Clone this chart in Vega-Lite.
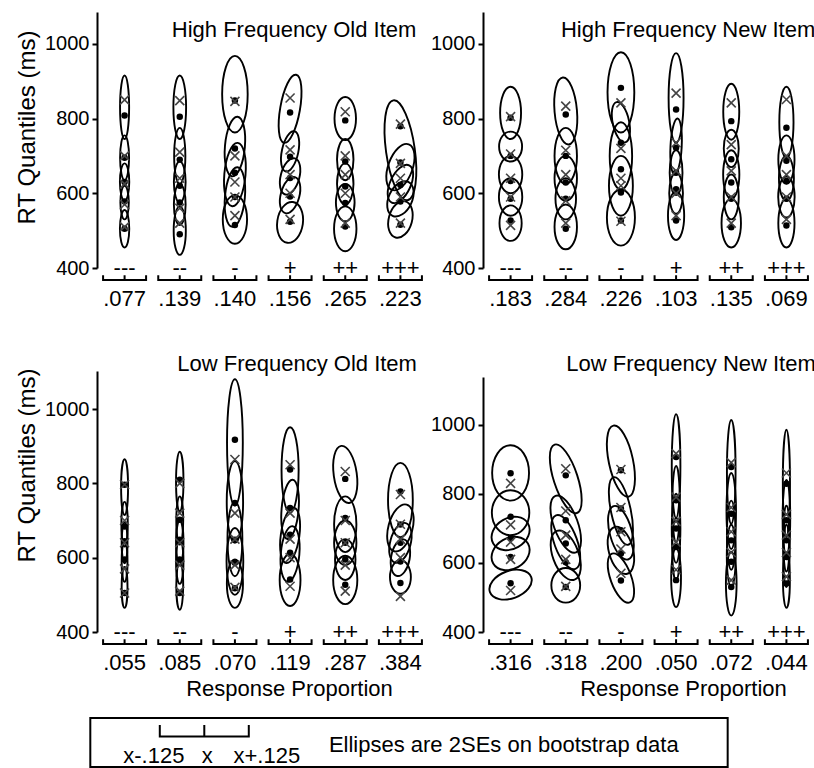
{
"$schema": "https://vega.github.io/schema/vega-lite/v6.json",
"padding": {"left": 14, "top": 12, "right": 0, "bottom": 0},
"background": "white",
"config": {
 "font": "Liberation Sans",
 "view": {"stroke": null},
 "range": {"symbol": [
  "M0,-1C0.4603,-1,0.8333,-0.5523,0.8333,0C0.8333,0.5523,0.4603,1,0,1C-0.4603,1,-0.8333,0.5523,-0.8333,0C-0.8333,-0.5523,-0.4603,-1,0,-1Z",
  "M0,-1C0.4248,-1,0.7692,-0.5523,0.7692,0C0.7692,0.5523,0.4248,1,0,1C-0.4248,1,-0.7692,0.5523,-0.7692,0C-0.7692,-0.5523,-0.4248,-1,0,-1Z",
  "M0,-1C0.3682,-1,0.6667,-0.5523,0.6667,0C0.6667,0.5523,0.3682,1,0,1C-0.3682,1,-0.6667,0.5523,-0.6667,0C-0.6667,-0.5523,-0.3682,-1,0,-1Z",
  "M0,-1C0.3452,-1,0.625,-0.5523,0.625,0C0.625,0.5523,0.3452,1,0,1C-0.3452,1,-0.625,0.5523,-0.625,0C-0.625,-0.5523,-0.3452,-1,0,-1Z",
  "M0,-1C0.2762,-1,0.5,-0.5523,0.5,0C0.5,0.5523,0.2762,1,0,1C-0.2762,1,-0.5,0.5523,-0.5,0C-0.5,-0.5523,-0.2762,-1,0,-1Z",
  "M0,-1C0.2209,-1,0.4,-0.5523,0.4,0C0.4,0.5523,0.2209,1,0,1C-0.2209,1,-0.4,0.5523,-0.4,0C-0.4,-0.5523,-0.2209,-1,0,-1Z",
  "M0,-1C0.1841,-1,0.3333,-0.5523,0.3333,0C0.3333,0.5523,0.1841,1,0,1C-0.1841,1,-0.3333,0.5523,-0.3333,0C-0.3333,-0.5523,-0.1841,-1,0,-1Z",
  "M0,-1C0.1578,-1,0.2857,-0.5523,0.2857,0C0.2857,0.5523,0.1578,1,0,1C-0.1578,1,-0.2857,0.5523,-0.2857,0C-0.2857,-0.5523,-0.1578,-1,0,-1Z",
  "M0,-1C0.1381,-1,0.25,-0.5523,0.25,0C0.25,0.5523,0.1381,1,0,1C-0.1381,1,-0.25,0.5523,-0.25,0C-0.25,-0.5523,-0.1381,-1,0,-1Z",
  "M0,-1C0.1105,-1,0.2,-0.5523,0.2,0C0.2,0.5523,0.1105,1,0,1C-0.1105,1,-0.2,0.5523,-0.2,0C-0.2,-0.5523,-0.1105,-1,0,-1Z",
  "M0,-1C0.0921,-1,0.1667,-0.5523,0.1667,0C0.1667,0.5523,0.0921,1,0,1C-0.0921,1,-0.1667,0.5523,-0.1667,0C-0.1667,-0.5523,-0.0921,-1,0,-1Z",
  "M0,-1C0.0789,-1,0.1429,-0.5523,0.1429,0C0.1429,0.5523,0.0789,1,0,1C-0.0789,1,-0.1429,0.5523,-0.1429,0C-0.1429,-0.5523,-0.0789,-1,0,-1Z",
  "M0,-1C0.069,-1,0.125,-0.5523,0.125,0C0.125,0.5523,0.069,1,0,1C-0.069,1,-0.125,0.5523,-0.125,0C-0.125,-0.5523,-0.069,-1,0,-1Z",
  "M0,-1C0.0552,-1,0.1,-0.5523,0.1,0C0.1,0.5523,0.0552,1,0,1C-0.0552,1,-0.1,0.5523,-0.1,0C-0.1,-0.5523,-0.0552,-1,0,-1Z",
  "M0,-1C0.046,-1,0.0833,-0.5523,0.0833,0C0.0833,0.5523,0.046,1,0,1C-0.046,1,-0.0833,0.5523,-0.0833,0C-0.0833,-0.5523,-0.046,-1,0,-1Z",
  "M0,-1C0.0368,-1,0.0667,-0.5523,0.0667,0C0.0667,0.5523,0.0368,1,0,1C-0.0368,1,-0.0667,0.5523,-0.0667,0C-0.0667,-0.5523,-0.0368,-1,0,-1Z"
 ]},
 "axis": {"labelFont": "Liberation Sans", "labelFontSize": 20, "labelColor": "black", "titleFont": "Liberation Sans", "titleFontSize": 24, "titleFontWeight": "normal", "titleColor": "black", "domainColor": "black", "domainWidth": 2, "tickColor": "black", "tickWidth": 2, "tickSize": 5, "labelPadding": 3, "grid": false, "format": "d"},
 "text": {"font": "Liberation Sans", "fontSize": 22, "color": "black"}
},
"datasets": {
 "q": [
  {"p":"TL","c":"---","o":505,"m":510,"cy":505,"h":100,"a":4,"t":0},
  {"p":"TL","c":"---","o":578,"m":570,"cy":575,"h":90,"a":4,"t":0},
  {"p":"TL","c":"---","o":630,"m":625,"cy":630,"h":100,"a":4,"t":0},
  {"p":"TL","c":"---","o":695,"m":700,"cy":695,"h":120,"a":5,"t":0},
  {"p":"TL","c":"---","o":808,"m":850,"cy":830,"h":170,"a":7,"t":0},
  {"p":"TL","c":"--","o":490,"m":520,"cy":500,"h":130,"a":4,"t":0},
  {"p":"TL","c":"--","o":575,"m":560,"cy":570,"h":110,"a":3.5,"t":0},
  {"p":"TL","c":"--","o":620,"m":640,"cy":630,"h":110,"a":3.5,"t":0},
  {"p":"TL","c":"--","o":690,"m":710,"cy":700,"h":150,"a":5,"t":0},
  {"p":"TL","c":"--","o":805,"m":848,"cy":830,"h":170,"a":5,"t":0},
  {"p":"TL","c":"-","o":515,"m":540,"cy":530,"h":130,"a":2,"t":0},
  {"p":"TL","c":"-","o":590,"m":590,"cy":590,"h":160,"a":3,"t":5},
  {"p":"TL","c":"-","o":655,"m":630,"cy":650,"h":170,"a":3,"t":5},
  {"p":"TL","c":"-","o":720,"m":700,"cy":725,"h":160,"a":3,"t":5},
  {"p":"TL","c":"-","o":848,"m":846,"cy":865,"h":205,"a":3,"t":0},
  {"p":"TL","c":"+","o":524,"m":530,"cy":522,"h":110,"a":1.6,"t":8},
  {"p":"TL","c":"+","o":591,"m":600,"cy":595,"h":100,"a":2,"t":15},
  {"p":"TL","c":"+","o":641,"m":650,"cy":645,"h":100,"a":2,"t":15},
  {"p":"TL","c":"+","o":698,"m":716,"cy":712,"h":110,"a":2.5,"t":12},
  {"p":"TL","c":"+","o":816,"m":855,"cy":826,"h":185,"a":3.5,"t":10},
  {"p":"TL","c":"++","o":511,"m":520,"cy":505,"h":120,"a":2,"t":0},
  {"p":"TL","c":"++","o":574,"m":600,"cy":575,"h":100,"a":2,"t":0},
  {"p":"TL","c":"++","o":618,"m":650,"cy":625,"h":110,"a":2.5,"t":0},
  {"p":"TL","c":"++","o":685,"m":700,"cy":690,"h":110,"a":2.5,"t":0},
  {"p":"TL","c":"++","o":795,"m":818,"cy":800,"h":115,"a":2,"t":0},
  {"p":"TL","c":"+++","o":516,"m":520,"cy":530,"h":100,"a":1.6,"t":15},
  {"p":"TL","c":"+++","o":578,"m":590,"cy":585,"h":100,"a":1.6,"t":25},
  {"p":"TL","c":"+++","o":622,"m":640,"cy":625,"h":110,"a":2,"t":25},
  {"p":"TL","c":"+++","o":682,"m":680,"cy":670,"h":130,"a":2,"t":20},
  {"p":"TL","c":"+++","o":779,"m":785,"cy":715,"h":270,"a":3.5,"t":-8},

  {"p":"TR","c":"---","o":527,"m":514,"cy":520,"h":95,"a":1.6,"t":0},
  {"p":"TR","c":"---","o":585,"m":590,"cy":590,"h":100,"a":1.6,"t":0},
  {"p":"TR","c":"---","o":633,"m":640,"cy":650,"h":100,"a":1.6,"t":0},
  {"p":"TR","c":"---","o":700,"m":705,"cy":725,"h":80,"a":1.3,"t":0},
  {"p":"TR","c":"---","o":802,"m":805,"cy":815,"h":140,"a":2.5,"t":0},
  {"p":"TR","c":"--","o":505,"m":520,"cy":510,"h":120,"a":2,"t":0},
  {"p":"TR","c":"--","o":585,"m":580,"cy":585,"h":110,"a":2,"t":0},
  {"p":"TR","c":"--","o":629,"m":650,"cy":640,"h":120,"a":2,"t":0},
  {"p":"TR","c":"--","o":700,"m":715,"cy":700,"h":150,"a":2.5,"t":0},
  {"p":"TR","c":"--","o":811,"m":833,"cy":820,"h":180,"a":3,"t":-5},
  {"p":"TR","c":"-","o":527,"m":525,"cy":535,"h":150,"a":2,"t":0},
  {"p":"TR","c":"-","o":602,"m":620,"cy":620,"h":160,"a":2.5,"t":0},
  {"p":"TR","c":"-","o":664,"m":640,"cy":700,"h":180,"a":3,"t":0},
  {"p":"TR","c":"-","o":735,"m":720,"cy":790,"h":110,"a":2.5,"t":-12},
  {"p":"TR","c":"-","o":882,"m":842,"cy":870,"h":215,"a":3,"t":0},
  {"p":"TR","c":"+","o":527,"m":540,"cy":540,"h":130,"a":3,"t":0},
  {"p":"TR","c":"+","o":611,"m":600,"cy":600,"h":110,"a":3,"t":0},
  {"p":"TR","c":"+","o":655,"m":660,"cy":655,"h":120,"a":3.5,"t":0},
  {"p":"TR","c":"+","o":722,"m":735,"cy":725,"h":150,"a":5,"t":3},
  {"p":"TR","c":"+","o":824,"m":868,"cy":855,"h":240,"a":6,"t":0},
  {"p":"TR","c":"++","o":509,"m":520,"cy":520,"h":130,"a":2.5,"t":0},
  {"p":"TR","c":"++","o":585,"m":590,"cy":590,"h":120,"a":3,"t":0},
  {"p":"TR","c":"++","o":629,"m":660,"cy":650,"h":130,"a":3,"t":0},
  {"p":"TR","c":"++","o":691,"m":730,"cy":720,"h":100,"a":2.5,"t":0},
  {"p":"TR","c":"++","o":793,"m":842,"cy":818,"h":150,"a":3.5,"t":0},
  {"p":"TR","c":"+++","o":514,"m":530,"cy":520,"h":130,"a":3,"t":0},
  {"p":"TR","c":"+++","o":585,"m":590,"cy":590,"h":110,"a":2.5,"t":0},
  {"p":"TR","c":"+++","o":633,"m":650,"cy":640,"h":120,"a":3,"t":0},
  {"p":"TR","c":"+++","o":687,"m":700,"cy":690,"h":130,"a":3,"t":0},
  {"p":"TR","c":"+++","o":775,"m":851,"cy":790,"h":190,"a":5,"t":0},

  {"p":"BL","c":"---","o":505,"m":505,"cy":520,"h":110,"a":7,"t":0},
  {"p":"BL","c":"---","o":595,"m":570,"cy":590,"h":110,"a":7,"t":0},
  {"p":"BL","c":"---","o":644,"m":640,"cy":640,"h":110,"a":7,"t":0},
  {"p":"BL","c":"---","o":684,"m":700,"cy":690,"h":120,"a":7,"t":0},
  {"p":"BL","c":"---","o":796,"m":797,"cy":790,"h":150,"a":8,"t":0},
  {"p":"BL","c":"--","o":505,"m":510,"cy":525,"h":130,"a":7,"t":0},
  {"p":"BL","c":"--","o":595,"m":580,"cy":590,"h":120,"a":6,"t":0},
  {"p":"BL","c":"--","o":648,"m":640,"cy":640,"h":120,"a":6,"t":0},
  {"p":"BL","c":"--","o":702,"m":720,"cy":700,"h":130,"a":7,"t":0},
  {"p":"BL","c":"--","o":810,"m":800,"cy":805,"h":160,"a":8,"t":0},
  {"p":"BL","c":"-","o":518,"m":520,"cy":530,"h":130,"a":3,"t":0},
  {"p":"BL","c":"-","o":586,"m":580,"cy":590,"h":180,"a":4,"t":0},
  {"p":"BL","c":"-","o":648,"m":650,"cy":650,"h":200,"a":5,"t":0},
  {"p":"BL","c":"-","o":747,"m":720,"cy":750,"h":220,"a":5,"t":0},
  {"p":"BL","c":"-","o":917,"m":864,"cy":910,"h":340,"a":8,"t":0},
  {"p":"BL","c":"+","o":541,"m":523,"cy":540,"h":140,"a":2.5,"t":0},
  {"p":"BL","c":"+","o":613,"m":600,"cy":610,"h":150,"a":3,"t":5},
  {"p":"BL","c":"+","o":662,"m":650,"cy":660,"h":150,"a":3,"t":8},
  {"p":"BL","c":"+","o":734,"m":720,"cy":730,"h":160,"a":3.5,"t":5},
  {"p":"BL","c":"+","o":837,"m":850,"cy":836,"h":230,"a":5,"t":0},
  {"p":"BL","c":"++","o":527,"m":510,"cy":540,"h":130,"a":2,"t":0},
  {"p":"BL","c":"++","o":595,"m":580,"cy":595,"h":110,"a":2,"t":0},
  {"p":"BL","c":"++","o":640,"m":640,"cy":640,"h":120,"a":2,"t":0},
  {"p":"BL","c":"++","o":707,"m":700,"cy":690,"h":150,"a":2.5,"t":0},
  {"p":"BL","c":"++","o":812,"m":832,"cy":824,"h":155,"a":2.5,"t":-8},
  {"p":"BL","c":"+++","o":532,"m":496,"cy":548,"h":90,"a":1.6,"t":0},
  {"p":"BL","c":"+++","o":590,"m":600,"cy":600,"h":100,"a":2,"t":10},
  {"p":"BL","c":"+++","o":640,"m":650,"cy":640,"h":110,"a":2,"t":15},
  {"p":"BL","c":"+++","o":689,"m":690,"cy":680,"h":130,"a":2,"t":15},
  {"p":"BL","c":"+++","o":778,"m":770,"cy":755,"h":200,"a":3,"t":0},

  {"p":"BR","c":"---","o":541,"m":520,"cy":537,"h":127,"a":1.6,"t":70},
  {"p":"BR","c":"---","o":617,"m":610,"cy":627,"h":116,"a":1.3,"t":60},
  {"p":"BR","c":"---","o":671,"m":660,"cy":685,"h":116,"a":1.3,"t":60},
  {"p":"BR","c":"---","o":733,"m":710,"cy":745,"h":130,"a":1.2,"t":0},
  {"p":"BR","c":"---","o":859,"m":830,"cy":860,"h":160,"a":1.5,"t":0},
  {"p":"BR","c":"--","o":530,"m":532,"cy":535,"h":100,"a":1.2,"t":0},
  {"p":"BR","c":"--","o":602,"m":610,"cy":622,"h":150,"a":2,"t":-20},
  {"p":"BR","c":"--","o":656,"m":680,"cy":660,"h":165,"a":2.5,"t":-20},
  {"p":"BR","c":"--","o":723,"m":750,"cy":712,"h":174,"a":2.5,"t":-20},
  {"p":"BR","c":"--","o":853,"m":872,"cy":843,"h":208,"a":3,"t":-18},
  {"p":"BR","c":"-","o":549,"m":570,"cy":556,"h":150,"a":2.5,"t":-20},
  {"p":"BR","c":"-","o":627,"m":640,"cy":636,"h":140,"a":2,"t":-15},
  {"p":"BR","c":"-","o":694,"m":690,"cy":687,"h":160,"a":2.5,"t":-15},
  {"p":"BR","c":"-","o":757,"m":760,"cy":750,"h":200,"a":3.5,"t":-12},
  {"p":"BR","c":"-","o":868,"m":870,"cy":894,"h":210,"a":3,"t":-12},
  {"p":"BR","c":"+","o":550,"m":580,"cy":557,"h":170,"a":6,"t":0},
  {"p":"BR","c":"+","o":646,"m":660,"cy":640,"h":180,"a":8,"t":0},
  {"p":"BR","c":"+","o":699,"m":720,"cy":700,"h":200,"a":8,"t":0},
  {"p":"BR","c":"+","o":781,"m":790,"cy":770,"h":220,"a":10,"t":0},
  {"p":"BR","c":"+","o":906,"m":916,"cy":880,"h":300,"a":12,"t":0},
  {"p":"BR","c":"++","o":530,"m":550,"cy":540,"h":185,"a":6,"t":0},
  {"p":"BR","c":"++","o":603,"m":630,"cy":620,"h":180,"a":7,"t":0},
  {"p":"BR","c":"++","o":665,"m":690,"cy":680,"h":200,"a":8,"t":0},
  {"p":"BR","c":"++","o":742,"m":760,"cy":750,"h":220,"a":8,"t":0},
  {"p":"BR","c":"++","o":877,"m":890,"cy":863,"h":300,"a":12,"t":0},
  {"p":"BR","c":"+++","o":540,"m":560,"cy":550,"h":160,"a":8,"t":0},
  {"p":"BR","c":"+++","o":617,"m":630,"cy":620,"h":180,"a":10,"t":0},
  {"p":"BR","c":"+++","o":665,"m":680,"cy":670,"h":190,"a":10,"t":0},
  {"p":"BR","c":"+++","o":723,"m":740,"cy":730,"h":220,"a":10,"t":0},
  {"p":"BR","c":"+++","o":829,"m":860,"cy":830,"h":310,"a":15,"t":0}
 ],
 "lab": [
  {"p":"TL","c":"---","v":".077"},{"p":"TL","c":"--","v":".139"},{"p":"TL","c":"-","v":".140"},{"p":"TL","c":"+","v":".156"},{"p":"TL","c":"++","v":".265"},{"p":"TL","c":"+++","v":".223"},
  {"p":"TR","c":"---","v":".183"},{"p":"TR","c":"--","v":".284"},{"p":"TR","c":"-","v":".226"},{"p":"TR","c":"+","v":".103"},{"p":"TR","c":"++","v":".135"},{"p":"TR","c":"+++","v":".069"},
  {"p":"BL","c":"---","v":".055"},{"p":"BL","c":"--","v":".085"},{"p":"BL","c":"-","v":".070"},{"p":"BL","c":"+","v":".119"},{"p":"BL","c":"++","v":".287"},{"p":"BL","c":"+++","v":".384"},
  {"p":"BR","c":"---","v":".316"},{"p":"BR","c":"--","v":".318"},{"p":"BR","c":"-","v":".200"},{"p":"BR","c":"+","v":".050"},{"p":"BR","c":"++","v":".072"},{"p":"BR","c":"+++","v":".044"}
 ],
 "ttl": [
  {"p":"TL","t":"High Frequency Old Item"},
  {"p":"TR","t":"High Frequency New Item"},
  {"p":"BL","t":"Low Frequency Old Item"},
  {"p":"BR","t":"Low Frequency New Item"}
 ]
},
"columns": 2,
"bounds": "flush",
"spacing": {"row": 86, "column": 55},
"resolve": {"scale": {"size": "independent", "x": "independent", "y": "independent"}},
"concat": [
 {
  "width": 331, "height": 256,
  "data": {"name": "q"},
  "transform": [{"filter": "datum.p === 'TL'"}],
  "encoding": {"x": {"field": "c", "type": "nominal", "scale": {"domain": ["---","--","-","+","++","+++"], "paddingInner": 0, "paddingOuter": 0}, "axis": null}},
  "layer": [
   {"mark": {"type": "point", "filled": false, "stroke": "black", "strokeWidth": 1.9, "opacity": 1},
    "encoding": {
     "y": {"field": "cy", "type": "quantitative", "title": "RT Quantiles (ms)", "scale": {"domain": [400, 1085], "nice": false, "zero": false}, "axis": {"values": [400, 600, 800, 1000], "titleX": -70, "titleY": 115, "titleAngle": -90, "titleBaseline": "middle", "titleAlign": "center"}},
     "shape": {"field": "a", "type": "nominal", "scale": {"domain": [1.2, 1.3, 1.5, 1.6, 2, 2.5, 3, 3.5, 4, 5, 6, 7, 8, 10, 12, 15]}, "legend": null},
     "size": {"field": "h", "type": "quantitative", "scale": {"type": "pow", "exponent": 2, "domain": [0, 500], "range": [0, 34917]}, "legend": null},
     "angle": {"field": "t", "type": "quantitative", "scale": null}
    }},
   {"mark": {"type": "point", "shape": "circle", "filled": true, "color": "black", "size": 42, "opacity": 1},
    "encoding": {"y": {"field": "o", "type": "quantitative", "title": "RT Quantiles (ms)"}}},
   {"mark": {"type": "point", "shape": "M-1,-1L1,1M1,-1L-1,1", "filled": false, "stroke": "#444444", "strokeWidth": 1.6, "size": 81, "opacity": 1},
    "encoding": {"y": {"field": "m", "type": "quantitative", "title": "RT Quantiles (ms)"}}},
   {"data": {"name": "lab"}, "transform": [{"filter": "datum.p === 'TL'"}],
    "layer": [
     {"mark": {"type": "text", "baseline": "alphabetic", "dy": 7}, "encoding": {"y": {"datum": 400}, "text": {"field": "c"}}},
     {"mark": {"type": "text", "baseline": "alphabetic", "dy": 38}, "encoding": {"y": {"datum": 400}, "text": {"field": "v"}}},
     {"mark": {"type": "point", "shape": "M-1,-0.22L-1,0L1,0L1,-0.22M0,0L0,-0.22", "filled": false, "stroke": "black", "strokeWidth": 2, "size": 1849, "opacity": 1, "yOffset": 12}, "encoding": {"y": {"datum": 400}}}
    ]},
   {"data": {"name": "ttl"}, "transform": [{"filter": "datum.p === 'TL'"}],
    "mark": {"type": "text", "baseline": "alphabetic", "align": "center", "dx": 4, "dy": -103},
    "encoding": {"x": {"datum": "+"}, "text": {"field": "t"}}}
  ]
 },
 {
  "width": 331, "height": 256,
  "data": {"name": "q"},
  "transform": [{"filter": "datum.p === 'TR'"}],
  "encoding": {"x": {"field": "c", "type": "nominal", "scale": {"domain": ["---","--","-","+","++","+++"], "paddingInner": 0, "paddingOuter": 0}, "axis": null}},
  "layer": [
   {"mark": {"type": "point", "filled": false, "stroke": "black", "strokeWidth": 1.9, "opacity": 1},
    "encoding": {
     "y": {"field": "cy", "type": "quantitative", "title": null, "scale": {"domain": [400, 1085], "nice": false, "zero": false}, "axis": {"values": [400, 600, 800, 1000]}},
     "shape": {"field": "a", "type": "nominal", "scale": {"domain": [1.2, 1.3, 1.5, 1.6, 2, 2.5, 3, 3.5, 4, 5, 6, 7, 8, 10, 12, 15]}, "legend": null},
     "size": {"field": "h", "type": "quantitative", "scale": {"type": "pow", "exponent": 2, "domain": [0, 500], "range": [0, 34917]}, "legend": null},
     "angle": {"field": "t", "type": "quantitative", "scale": null}
    }},
   {"mark": {"type": "point", "shape": "circle", "filled": true, "color": "black", "size": 42, "opacity": 1},
    "encoding": {"y": {"field": "o", "type": "quantitative", "title": null}}},
   {"mark": {"type": "point", "shape": "M-1,-1L1,1M1,-1L-1,1", "filled": false, "stroke": "#444444", "strokeWidth": 1.6, "size": 81, "opacity": 1},
    "encoding": {"y": {"field": "m", "type": "quantitative", "title": null}}},
   {"data": {"name": "lab"}, "transform": [{"filter": "datum.p === 'TR'"}],
    "layer": [
     {"mark": {"type": "text", "baseline": "alphabetic", "dy": 7}, "encoding": {"y": {"datum": 400}, "text": {"field": "c"}}},
     {"mark": {"type": "text", "baseline": "alphabetic", "dy": 38}, "encoding": {"y": {"datum": 400}, "text": {"field": "v"}}},
     {"mark": {"type": "point", "shape": "M-1,-0.22L-1,0L1,0L1,-0.22M0,0L0,-0.22", "filled": false, "stroke": "black", "strokeWidth": 2, "size": 1849, "opacity": 1, "yOffset": 12}, "encoding": {"y": {"datum": 400}}}
    ]},
   {"data": {"name": "ttl"}, "transform": [{"filter": "datum.p === 'TR'"}],
    "mark": {"type": "text", "baseline": "alphabetic", "align": "center", "dx": 12, "dy": -103},
    "encoding": {"x": {"datum": "+"}, "text": {"field": "t"}}}
  ]
 },
 {
  "width": 331, "height": 278,
  "data": {"name": "q"},
  "transform": [{"filter": "datum.p === 'BL'"}],
  "encoding": {"x": {"field": "c", "type": "nominal", "scale": {"domain": ["---","--","-","+","++","+++"], "paddingInner": 0, "paddingOuter": 0}, "axis": {"title": "Response Proportion", "labels": false, "ticks": false, "domain": false, "titleX": 192, "titleY": 63, "titleBaseline": "alphabetic", "titleFontSize": 22}}},
  "layer": [
   {"mark": {"type": "point", "filled": false, "stroke": "black", "strokeWidth": 1.9, "opacity": 1},
    "encoding": {
     "y": {"field": "cy", "type": "quantitative", "title": "RT Quantiles (ms)", "scale": {"domain": [400, 1148], "nice": false, "zero": false}, "axis": {"values": [400, 600, 800, 1000], "domainDash": [261, 1000], "titleX": -70, "titleY": 111, "titleAngle": -90, "titleBaseline": "middle", "titleAlign": "center"}},
     "shape": {"field": "a", "type": "nominal", "scale": {"domain": [1.2, 1.3, 1.5, 1.6, 2, 2.5, 3, 3.5, 4, 5, 6, 7, 8, 10, 12, 15]}, "legend": null},
     "size": {"field": "h", "type": "quantitative", "scale": {"type": "pow", "exponent": 2, "domain": [0, 500], "range": [0, 34530]}, "legend": null},
     "angle": {"field": "t", "type": "quantitative", "scale": null}
    }},
   {"mark": {"type": "point", "shape": "circle", "filled": true, "color": "black", "size": 42, "opacity": 1},
    "encoding": {"y": {"field": "o", "type": "quantitative", "title": "RT Quantiles (ms)"}}},
   {"mark": {"type": "point", "shape": "M-1,-1L1,1M1,-1L-1,1", "filled": false, "stroke": "#444444", "strokeWidth": 1.6, "size": 81, "opacity": 1},
    "encoding": {"y": {"field": "m", "type": "quantitative", "title": "RT Quantiles (ms)"}}},
   {"data": {"name": "lab"}, "transform": [{"filter": "datum.p === 'BL'"}],
    "layer": [
     {"mark": {"type": "text", "baseline": "alphabetic", "dy": 7}, "encoding": {"y": {"datum": 400}, "text": {"field": "c"}}},
     {"mark": {"type": "text", "baseline": "alphabetic", "dy": 38}, "encoding": {"y": {"datum": 400}, "text": {"field": "v"}}},
     {"mark": {"type": "point", "shape": "M-1,-0.22L-1,0L1,0L1,-0.22M0,0L0,-0.22", "filled": false, "stroke": "black", "strokeWidth": 2, "size": 1849, "opacity": 1, "yOffset": 12}, "encoding": {"y": {"datum": 400}}}
    ]},
   {"data": {"name": "ttl"}, "transform": [{"filter": "datum.p === 'BL'"}],
    "mark": {"type": "text", "baseline": "alphabetic", "align": "center", "dx": 7, "dy": -122},
    "encoding": {"x": {"datum": "+"}, "text": {"field": "t"}}}
  ]
 },
 {
  "width": 331, "height": 278,
  "data": {"name": "q"},
  "transform": [{"filter": "datum.p === 'BR'"}],
  "encoding": {"x": {"field": "c", "type": "nominal", "scale": {"domain": ["---","--","-","+","++","+++"], "paddingInner": 0, "paddingOuter": 0}, "axis": {"title": "Response Proportion", "labels": false, "ticks": false, "domain": false, "titleX": 200, "titleY": 63, "titleBaseline": "alphabetic", "titleFontSize": 22}}},
  "layer": [
   {"mark": {"type": "point", "filled": false, "stroke": "black", "strokeWidth": 1.9, "opacity": 1},
    "encoding": {
     "y": {"field": "cy", "type": "quantitative", "title": null, "scale": {"domain": [400, 1204], "nice": false, "zero": false}, "axis": {"values": [400, 600, 800, 1000], "domainDash": [255, 1000]}},
     "shape": {"field": "a", "type": "nominal", "scale": {"domain": [1.2, 1.3, 1.5, 1.6, 2, 2.5, 3, 3.5, 4, 5, 6, 7, 8, 10, 12, 15]}, "legend": null},
     "size": {"field": "h", "type": "quantitative", "scale": {"type": "pow", "exponent": 2, "domain": [0, 500], "range": [0, 29890]}, "legend": null},
     "angle": {"field": "t", "type": "quantitative", "scale": null}
    }},
   {"mark": {"type": "point", "shape": "circle", "filled": true, "color": "black", "size": 42, "opacity": 1},
    "encoding": {"y": {"field": "o", "type": "quantitative", "title": null}}},
   {"mark": {"type": "point", "shape": "M-1,-1L1,1M1,-1L-1,1", "filled": false, "stroke": "#444444", "strokeWidth": 1.6, "size": 81, "opacity": 1},
    "encoding": {"y": {"field": "m", "type": "quantitative", "title": null}}},
   {"data": {"name": "lab"}, "transform": [{"filter": "datum.p === 'BR'"}],
    "layer": [
     {"mark": {"type": "text", "baseline": "alphabetic", "dy": 7}, "encoding": {"y": {"datum": 400}, "text": {"field": "c"}}},
     {"mark": {"type": "text", "baseline": "alphabetic", "dy": 38}, "encoding": {"y": {"datum": 400}, "text": {"field": "v"}}},
     {"mark": {"type": "point", "shape": "M-1,-0.22L-1,0L1,0L1,-0.22M0,0L0,-0.22", "filled": false, "stroke": "black", "strokeWidth": 2, "size": 1849, "opacity": 1, "yOffset": 12}, "encoding": {"y": {"datum": 400}}}
    ]},
   {"data": {"name": "ttl"}, "transform": [{"filter": "datum.p === 'BR'"}],
    "mark": {"type": "text", "baseline": "alphabetic", "align": "center", "dx": 15, "dy": -122},
    "encoding": {"x": {"datum": "+"}, "text": {"field": "t"}}}
  ]
 },
 {
  "width": 331, "height": 49,
  "data": {"values": [{"d": -0.125, "t": "x-.125"}, {"d": 0, "t": "x"}, {"d": 0.125, "t": "x+.125"}, {"d": 0.35, "t": "Ellipses are 2SEs on bootstrap data"}]},
  "encoding": {"x": {"field": "d", "type": "quantitative", "scale": {"domain": [-0.3014, 0.6284], "nice": false, "zero": false}, "axis": null}, "text": {"field": "t"}},
  "layer": [
   {"transform": [{"filter": "datum.d === 0"}],
    "mark": {"type": "rect", "fill": null, "filled": false, "stroke": "black", "strokeWidth": 2, "opacity": 1},
    "encoding": {"x": {"datum": -0.3202}, "x2": {"datum": 1.4702}, "text": null}},
   {"transform": [{"filter": "datum.d === 0"}],
    "mark": {"type": "point", "shape": "M-1,-0.26L-1,0L1,0L1,-0.26M0,0L0,-0.26", "filled": false, "stroke": "black", "strokeWidth": 2, "size": 7921, "opacity": 1, "yOffset": -6}},
   {"transform": [{"filter": "datum.d === -0.125"}],
    "mark": {"type": "text", "baseline": "alphabetic", "dx": -6, "dy": 20.5}},
   {"transform": [{"filter": "datum.d === 0"}],
    "mark": {"type": "text", "baseline": "alphabetic", "dx": 3, "dy": 20.5}},
   {"transform": [{"filter": "datum.d === 0.125"}],
    "mark": {"type": "text", "baseline": "alphabetic", "dx": 18, "dy": 20.5}},
   {"transform": [{"filter": "datum.d === 0.35"}],
    "mark": {"type": "text", "baseline": "alphabetic", "align": "left", "dy": 9}}
  ]
 }
]
}
